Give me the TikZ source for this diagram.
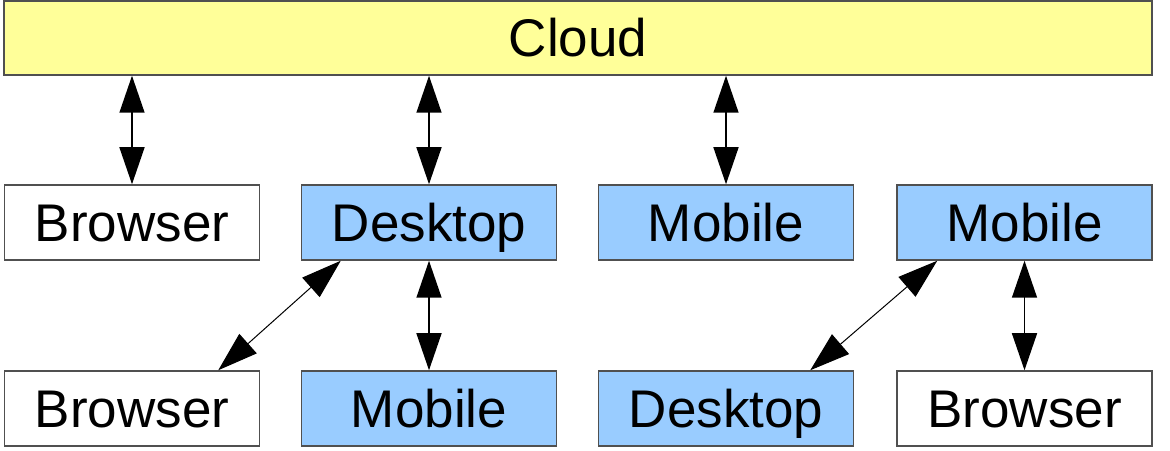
\documentclass[tikz,border=0pt]{standalone}
\usepackage{fontspec}
\setmainfont{Liberation Sans}
\usetikzlibrary{arrows.meta,calc}
\definecolor{cloudfill}{HTML}{FFFF99}
\definecolor{bluefill}{HTML}{99CCFF}
\definecolor{boxline}{HTML}{505050}
\tikzset{
  box/.style={draw=boxline, line width=1.5pt, inner sep=0pt, minimum width=255pt, minimum height=75pt,
    text height=38pt, text depth=0pt, font=\fontsize{53pt}{60pt}\selectfont},
  whitebox/.style={box, fill=white},
  bluebox/.style={box, fill=bluefill},
  link/.style={line width=1.5pt, {Triangle[length=37pt,width=25pt]}-{Triangle[length=37pt,width=25pt]}},
  diaglink/.style={line width=1pt, {Triangle[length=40pt,width=26pt]}-{Triangle[length=40pt,width=26pt]}}
}
\begin{document}
\begin{tikzpicture}[x=1pt,y=1pt]
\useasboundingbox (0,0) rectangle (1170,450);
\node[box, fill=cloudfill, minimum width=1148pt, minimum height=74pt] (cloud) at (578,412) {Cloud};
\node[whitebox] (b1) at (132,227.5) {Browser};
\node[bluebox]  (d1) at (429,227.5) {Desktop};
\node[bluebox]  (m1) at (726,227.5) {Mobile};
\node[bluebox]  (m2) at (1024.5,227.5) {Mobile};
\node[whitebox] (b2) at (132,41.5) {Browser};
\node[bluebox]  (m3) at (429,41.5) {Mobile};
\node[bluebox]  (d2) at (726,41.5) {Desktop};
\node[whitebox] (b3) at (1024.5,41.5) {Browser};
\draw[link] (cloud.south -| b1.north) -- (b1.north);
\draw[link] (cloud.south -| d1.north) -- (d1.north);
\draw[link] (cloud.south -| m1.north) -- (m1.north);
\draw[link] (d1.south) -- (m3.north);
\draw[link] (m2.south) -- (b3.north);
\draw[diaglink] ($(d1.south west)+(40,0)$) -- ($(b2.north east)+(-42,0)$);
\draw[diaglink] ($(m2.south west)+(41,0)$) -- ($(d2.north east)+(-44,0)$);
\end{tikzpicture}
\end{document}
